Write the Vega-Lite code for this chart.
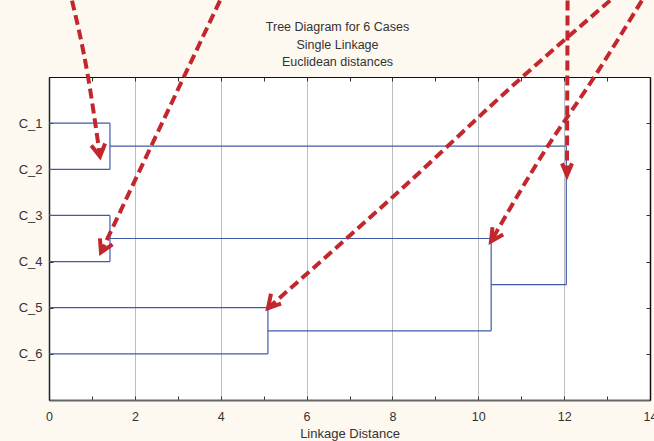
{
  "$schema": "https://vega.github.io/schema/vega-lite/v6.json",
  "width": 601,
  "height": 323,
  "autosize": "none",
  "padding": {"left": 49, "top": 77, "right": 4, "bottom": 41},
  "background": "#fdf8f0",
  "config": {
    "font": "Liberation Sans",
    "view": {"stroke": "#111", "strokeWidth": 1, "fill": "#ffffff"},
    "axis": {"labelFont": "Liberation Sans", "titleFont": "Liberation Sans", "labelColor": "#333", "titleColor": "#333", "labelFontSize": 12.5, "titleFontSize": 13, "titleFontWeight": "normal"}
  },
  "title": {
    "text": ["Tree Diagram for 6 Cases", "Single Linkage", "Euclidean distances"],
    "font": "Liberation Sans",
    "fontSize": 12.5,
    "fontWeight": "normal",
    "color": "#333",
    "lineHeight": 17.5,
    "anchor": "middle",
    "dx": -12,
    "offset": -76
  },
  "datasets": {
    "segments": [
      {"x": 0, "x2": 1.42, "y": 1, "y2": 1},
      {"x": 0, "x2": 1.42, "y": 2, "y2": 2},
      {"x": 0, "x2": 1.42, "y": 3, "y2": 3},
      {"x": 0, "x2": 1.42, "y": 4, "y2": 4},
      {"x": 0, "x2": 5.1, "y": 5, "y2": 5},
      {"x": 0, "x2": 5.1, "y": 6, "y2": 6},
      {"x": 1.42, "x2": 1.42, "y": 1, "y2": 2},
      {"x": 1.42, "x2": 1.42, "y": 3, "y2": 4},
      {"x": 5.1, "x2": 5.1, "y": 5, "y2": 6},
      {"x": 1.42, "x2": 12.05, "y": 1.5, "y2": 1.5},
      {"x": 1.42, "x2": 10.3, "y": 3.5, "y2": 3.5},
      {"x": 5.1, "x2": 10.3, "y": 5.5, "y2": 5.5},
      {"x": 10.3, "x2": 10.3, "y": 3.5, "y2": 5.5},
      {"x": 10.3, "x2": 12.05, "y": 4.5, "y2": 4.5},
      {"x": 12.05, "x2": 12.05, "y": 1.5, "y2": 4.5}
    ],
    "shafts": [
      {"id": "a1", "i": 0, "x": 0.536, "y": -1.656},
      {"id": "a1", "i": 1, "x": 0.908, "y": -0.011},
      {"id": "a1", "i": 2, "x": 1.188, "y": 1.721},
      {"id": "a2", "i": 0, "x": 3.983, "y": -1.656},
      {"id": "a2", "i": 1, "x": 1.211, "y": 3.799},
      {"id": "a3", "i": 0, "x": 12.08, "y": -1.656},
      {"id": "a3", "i": 1, "x": 12.066, "y": 2.132},
      {"id": "a4", "i": 0, "x": 13.81, "y": -1.656},
      {"id": "a4", "i": 1, "x": 12.649, "y": 0.076},
      {"id": "a4", "i": 2, "x": 11.6, "y": 1.526},
      {"id": "a4", "i": 3, "x": 10.296, "y": 3.561},
      {"id": "a5", "i": 0, "x": 13.07, "y": -1.656},
      {"id": "a5", "i": 1, "x": 11.04, "y": -0.011},
      {"id": "a5", "i": 2, "x": 8.176, "y": 2.457},
      {"id": "a5", "i": 3, "x": 5.101, "y": 5.011}
    ],
    "heads": [
      {"id": "h1", "i": 0, "x": 1.307, "y": 1.439},
      {"id": "h1", "i": 1, "x": 1.188, "y": 1.721},
      {"id": "h1", "i": 2, "x": 0.985, "y": 1.483},
      {"id": "h2", "i": 0, "x": 1.479, "y": 3.626},
      {"id": "h2", "i": 1, "x": 1.211, "y": 3.799},
      {"id": "h2", "i": 2, "x": 1.186, "y": 3.496},
      {"id": "h3", "i": 0, "x": 11.95, "y": 1.872},
      {"id": "h3", "i": 1, "x": 12.066, "y": 2.132},
      {"id": "h3", "i": 2, "x": 12.183, "y": 1.872},
      {"id": "h4", "i": 0, "x": 10.58, "y": 3.413},
      {"id": "h4", "i": 1, "x": 10.296, "y": 3.561},
      {"id": "h4", "i": 2, "x": 10.331, "y": 3.258},
      {"id": "h5", "i": 0, "x": 5.404, "y": 4.913},
      {"id": "h5", "i": 1, "x": 5.101, "y": 5.011},
      {"id": "h5", "i": 2, "x": 5.171, "y": 4.697}
    ]
  },
  "resolve": {"axis": {"x": "independent", "y": "independent"}},
  "layer": [
    {
      "data": {"name": "segments"},
      "mark": {"type": "rule", "color": "#3f5aa8", "strokeWidth": 1.2},
      "encoding": {
        "x": {
          "field": "x", "type": "quantitative",
          "scale": {"domain": [0, 14], "nice": false, "zero": false},
          "axis": {
            "orient": "bottom",
            "title": "Linkage Distance",
            "values": [0, 1, 2, 3, 4, 5, 6, 7, 8, 9, 10, 11, 12, 13, 14],
            "labelExpr": "datum.value % 2 == 0 ? datum.label : ''",
            "grid": true,
            "gridColor": "#bdbdbd",
            "gridWidth": 1,
            "gridOpacity": {"condition": {"test": "datum.value % 2 == 1", "value": 0}, "value": 1},
            "tickSize": -4,
            "tickColor": "#333",
            "domainColor": "#666",
            "domainWidth": 2,
            "labelPadding": 14,
            "titlePadding": 5,
            "labelFlush": false
          }
        },
        "x2": {"field": "x2"},
        "y": {
          "field": "y", "type": "quantitative",
          "scale": {"domain": [0, 7], "nice": false, "zero": false, "reverse": true},
          "axis": {
            "orient": "left",
            "title": null,
            "values": [1, 2, 3, 4, 5, 6],
            "labelExpr": "'C_' + datum.value",
            "grid": false,
            "tickSize": -4,
            "tickColor": "#333",
            "domainColor": "#222",
            "domainWidth": 1.5,
            "labelPadding": 11,
            "labelFontSize": 13
          }
        },
        "y2": {"field": "y2"}
      }
    },
    {
      "data": {"name": "shafts"},
      "mark": {"type": "line", "color": "#c1272d", "strokeWidth": 4, "strokeDash": [10, 5], "clip": false, "interpolate": "monotone"},
      "encoding": {
        "x": {
          "field": "x", "type": "quantitative",
          "scale": {"domain": [0, 14], "nice": false, "zero": false},
          "axis": {"orient": "top", "title": null, "labels": false, "values": [0, 1, 2, 3, 4, 5, 6, 7, 8, 9, 10, 11, 12, 13, 14], "grid": false, "tickSize": -4, "tickColor": "#333", "domainColor": "#111", "domainWidth": 1}
        },
        "y": {
          "field": "y", "type": "quantitative",
          "scale": {"domain": [0, 7], "nice": false, "zero": false, "reverse": true},
          "axis": {"orient": "right", "title": null, "labels": false, "values": [1, 2, 3, 4, 5, 6], "grid": false, "tickSize": -4, "tickColor": "#333", "domainColor": "#111", "domainWidth": 1.5}
        },
        "detail": {"field": "id"},
        "order": {"field": "i", "type": "quantitative"}
      }
    },
    {
      "data": {"name": "heads"},
      "mark": {"type": "line", "color": "#c1272d", "strokeWidth": 4, "clip": false, "strokeJoin": "miter"},
      "encoding": {
        "x": {"field": "x", "type": "quantitative", "axis": null},
        "y": {"field": "y", "type": "quantitative", "axis": null},
        "detail": {"field": "id"},
        "order": {"field": "i", "type": "quantitative"}
      }
    }
  ]
}
